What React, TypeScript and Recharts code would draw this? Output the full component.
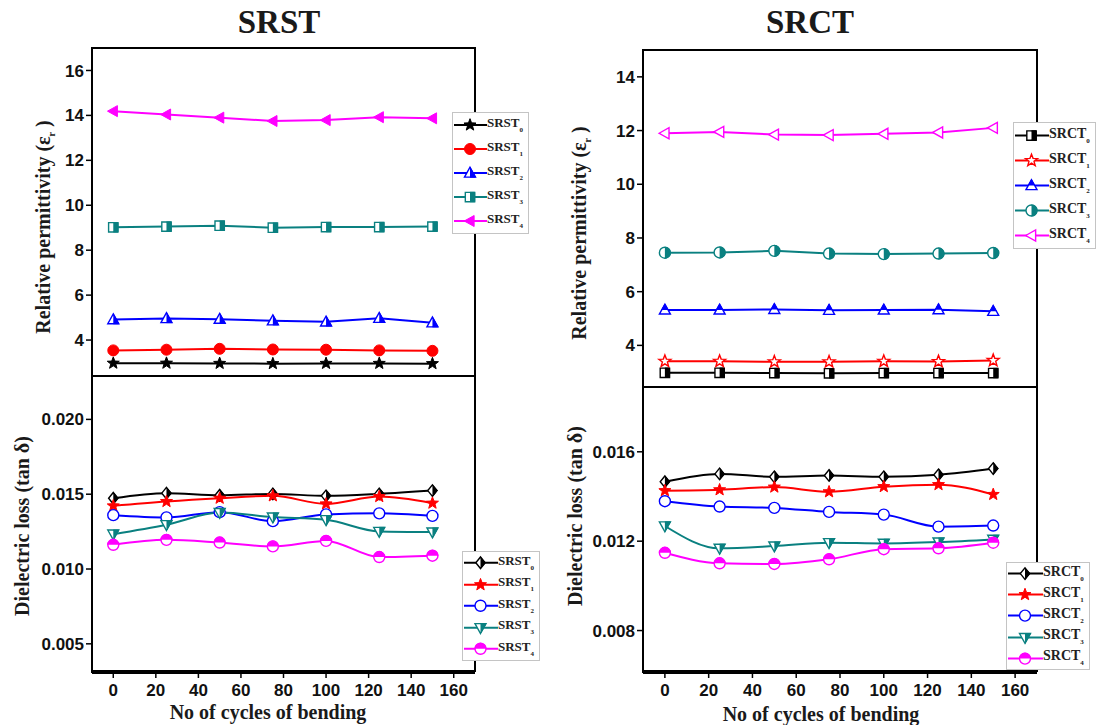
import React from "react";
import { LineChart, Line, XAxis, YAxis } from "recharts";

// Bending cycles (x) and the axis ticks shared by all four panels
const CYCLES = [0, 25, 50, 75, 100, 125, 150];
const X_TICKS = [0, 20, 40, 60, 80, 100, 120, 140, 160];

const EPS_TICKS_SRST = [4, 6, 8, 10, 12, 14, 16];
const EPS_TICKS_SRCT = [4, 6, 8, 10, 12, 14];
const LOSS_TICKS_SRST = [0.005, 0.01, 0.015, 0.02];
const LOSS_TICKS_SRCT = [0.008, 0.012, 0.016];

// Relative permittivity, SRST films
const SRST_EPS_0 = [2.97, 2.97, 2.96, 2.95, 2.96, 2.96, 2.95];
const SRST_EPS_1 = [3.54, 3.57, 3.61, 3.58, 3.57, 3.54, 3.52];
const SRST_EPS_2 = [4.91, 4.96, 4.93, 4.86, 4.81, 4.97, 4.77];
const SRST_EPS_3 = [9.02, 9.05, 9.09, 9.0, 9.03, 9.03, 9.05];
const SRST_EPS_4 = [14.19, 14.04, 13.9, 13.75, 13.79, 13.92, 13.87];

// Relative permittivity, SRCT films
const SRCT_EPS_0 = [2.98, 2.98, 2.97, 2.96, 2.97, 2.97, 2.97];
const SRCT_EPS_1 = [3.41, 3.41, 3.39, 3.39, 3.41, 3.4, 3.44];
const SRCT_EPS_2 = [5.32, 5.32, 5.34, 5.31, 5.32, 5.33, 5.27];
const SRCT_EPS_3 = [7.45, 7.46, 7.52, 7.42, 7.4, 7.42, 7.44];
const SRCT_EPS_4 = [11.9, 11.95, 11.85, 11.83, 11.88, 11.93, 12.1];

// Dielectric loss (tan δ), SRST films
const SRST_LOSS_0 = [0.01473, 0.01507, 0.01493, 0.01502, 0.01489, 0.01502, 0.01524];
const SRST_LOSS_1 = [0.01422, 0.01451, 0.01473, 0.01489, 0.01435, 0.01484, 0.0144];
const SRST_LOSS_2 = [0.0136, 0.01345, 0.0138, 0.0132, 0.01365, 0.01372, 0.01355];
const SRST_LOSS_3 = [0.01233, 0.01296, 0.01377, 0.01347, 0.01329, 0.01251, 0.01247];
const SRST_LOSS_4 = [0.01162, 0.01195, 0.01177, 0.01151, 0.01188, 0.0108, 0.01089];

// Dielectric loss (tan δ), SRCT films
const SRCT_LOSS_0 = [0.01466, 0.01501, 0.01488, 0.01494, 0.01488, 0.01497, 0.01525];
const SRCT_LOSS_1 = [0.01426, 0.0143, 0.01442, 0.01421, 0.01444, 0.01453, 0.01409];
const SRCT_LOSS_2 = [0.01379, 0.01355, 0.01349, 0.01331, 0.01319, 0.01265, 0.0127];
const SRCT_LOSS_3 = [0.01268, 0.01168, 0.01178, 0.01193, 0.0119, 0.01196, 0.01208];
const SRCT_LOSS_4 = [0.01148, 0.01101, 0.01098, 0.01119, 0.01164, 0.01168, 0.01193];

const BLACK = "#000000";
const RED = "#ff0000";
const BLUE = "#0000ff";
const TEAL = "#0a8080";
const MAGENTA = "#ff00ff";

const SERIF = "'Liberation Serif', 'Times New Roman', serif";
const SANS = "'Liberation Sans', Arial, sans-serif";

type Shape = "star" | "circle" | "square" | "diamond" | "triUp" | "triDown" | "triLeft";
type Fill = "solid" | "open" | "right" | "top";

interface SeriesDef {
  key: string;
  color: string;
  shape: Shape;
  fill: Fill;
}

const SERIES_SRST_EPS: SeriesDef[] = [
  { key: "s0", color: BLACK, shape: "star", fill: "solid" },
  { key: "s1", color: RED, shape: "circle", fill: "solid" },
  { key: "s2", color: BLUE, shape: "triUp", fill: "right" },
  { key: "s3", color: TEAL, shape: "square", fill: "right" },
  { key: "s4", color: MAGENTA, shape: "triLeft", fill: "solid" },
];

const SERIES_SRCT_EPS: SeriesDef[] = [
  { key: "s0", color: BLACK, shape: "square", fill: "right" },
  { key: "s1", color: RED, shape: "star", fill: "open" },
  { key: "s2", color: BLUE, shape: "triUp", fill: "top" },
  { key: "s3", color: TEAL, shape: "circle", fill: "right" },
  { key: "s4", color: MAGENTA, shape: "triLeft", fill: "open" },
];

const SERIES_LOSS: SeriesDef[] = [
  { key: "s0", color: BLACK, shape: "diamond", fill: "right" },
  { key: "s1", color: RED, shape: "star", fill: "solid" },
  { key: "s2", color: BLUE, shape: "circle", fill: "open" },
  { key: "s3", color: TEAL, shape: "triDown", fill: "right" },
  { key: "s4", color: MAGENTA, shape: "circle", fill: "top" },
];

function toRows(series: number[][]) {
  return CYCLES.map((cycle, i) => {
    const row: Record<string, number> = { cycle };
    series.forEach((s, k) => {
      row[`s${k}`] = s[i];
    });
    return row;
  });
}

const ROWS_SRST_EPS = toRows([SRST_EPS_0, SRST_EPS_1, SRST_EPS_2, SRST_EPS_3, SRST_EPS_4]);
const ROWS_SRCT_EPS = toRows([SRCT_EPS_0, SRCT_EPS_1, SRCT_EPS_2, SRCT_EPS_3, SRCT_EPS_4]);
const ROWS_SRST_LOSS = toRows([SRST_LOSS_0, SRST_LOSS_1, SRST_LOSS_2, SRST_LOSS_3, SRST_LOSS_4]);
const ROWS_SRCT_LOSS = toRows([SRCT_LOSS_0, SRCT_LOSS_1, SRCT_LOSS_2, SRCT_LOSS_3, SRCT_LOSS_4]);

function poly(pts: [number, number][]) {
  return "M" + pts.map((p) => `${p[0].toFixed(2)},${p[1].toFixed(2)}`).join("L") + "Z";
}

function shapePath(shape: Shape, cx: number, cy: number, r: number): string {
  switch (shape) {
    case "circle":
      return `M${cx - r},${cy}a${r},${r} 0 1,0 ${2 * r},0a${r},${r} 0 1,0 ${-2 * r},0Z`;
    case "square": {
      const s = r * 0.85;
      return poly([[cx - s, cy - s], [cx + s, cy - s], [cx + s, cy + s], [cx - s, cy + s]]);
    }
    case "diamond":
      return poly([[cx, cy - r * 1.05], [cx + r * 0.85, cy], [cx, cy + r * 1.05], [cx - r * 0.85, cy]]);
    case "triUp":
      return poly([[cx, cy - r * 1.05], [cx + r, cy + r * 0.75], [cx - r, cy + r * 0.75]]);
    case "triDown":
      return poly([[cx, cy + r * 1.05], [cx + r, cy - r * 0.75], [cx - r, cy - r * 0.75]]);
    case "triLeft":
      return poly([[cx - r * 1.05, cy], [cx + r * 0.75, cy - r], [cx + r * 0.75, cy + r]]);
    case "star": {
      const pts: [number, number][] = [];
      for (let i = 0; i < 10; i++) {
        const rad = i % 2 === 0 ? r * 1.15 : r * 0.48;
        const a = -Math.PI / 2 + (i * Math.PI) / 5;
        pts.push([cx + rad * Math.cos(a), cy + rad * Math.sin(a)]);
      }
      return poly(pts);
    }
  }
}

function Marker({ id, cx, cy, s, r = 5.5 }: { id: string; cx: number; cy: number; s: SeriesDef; r?: number }) {
  if (cx == null || cy == null || Number.isNaN(cx) || Number.isNaN(cy)) return <g />;
  const d = shapePath(s.shape, cx, cy, r);
  if (s.fill === "solid") return <path d={d} fill={s.color} stroke={s.color} strokeWidth={1} />;
  if (s.fill === "open") return <path d={d} fill="#ffffff" stroke={s.color} strokeWidth={1.4} />;
  const R = r + 3;
  const clip =
    s.fill === "right"
      ? { x: cx, y: cy - R, width: R, height: 2 * R }
      : { x: cx - R, y: cy - R, width: 2 * R, height: R };
  return (
    <g>
      <defs>
        <clipPath id={id}>
          <rect {...clip} />
        </clipPath>
      </defs>
      <path d={d} fill="#ffffff" stroke={s.color} strokeWidth={1.4} />
      <path d={d} fill={s.color} stroke={s.color} strokeWidth={1} clipPath={`url(#${id})`} />
    </g>
  );
}

interface Box {
  x0: number;
  x1: number;
  y0: number;
  y1: number;
}

const tickStyle = { fill: "#111", fontFamily: SANS, fontWeight: 700, fontSize: 17 };

// Plot frame: top panels get a full box, bottom panels share the top edge
function Frame({ box, top }: { box: Box; top: boolean }) {
  return (
    <div
      style={{
        position: "absolute",
        left: box.x0 - 1,
        top: box.y0 - 1,
        width: box.x1 - box.x0 - 2,
        height: box.y1 - box.y0 - 2,
        borderStyle: "solid",
        borderColor: "#000",
        borderWidth: top ? 2 : "0 2px 2px 2px",
        pointerEvents: "none",
      }}
    />
  );
}

function Panel({
  id,
  box,
  rows,
  series,
  yDomain,
  yTicks,
  yFmt,
  curve,
  bottom,
}: {
  id: string;
  box: Box;
  rows: Record<string, number>[];
  series: SeriesDef[];
  yDomain: [number, number];
  yTicks: number[];
  yFmt: (v: number) => string;
  curve: "linear" | "monotone";
  bottom: boolean;
}) {
  const padL = 70;
  const padT = 10;
  const padR = 10;
  const padB = 10;
  const xh = bottom ? 36 : 0;
  const w = box.x1 - box.x0 + padL + padR;
  const h = box.y1 - box.y0 + padT + xh + padB;
  const axisLine = { stroke: "#000", strokeWidth: 2 };
  return (
    <>
      <div style={{ position: "absolute", left: box.x0 - padL, top: box.y0 - padT }}>
        <LineChart width={w} height={h} data={rows} margin={{ top: padT, right: padR, bottom: padB, left: 0 }}>
          <XAxis
            xAxisId="b"
            dataKey="cycle"
            type="number"
            domain={[-10, 170]}
            ticks={bottom ? X_TICKS : []}
            allowDataOverflow
            height={xh}
            hide={!bottom}
            axisLine={axisLine}
            tick={tickStyle}
            tickLine={{ stroke: "#000", strokeWidth: 1.5 }}
            tickSize={5}
            tickMargin={6}
          />
          <YAxis
            yAxisId="l"
            type="number"
            domain={yDomain}
            ticks={yTicks}
            allowDataOverflow
            width={padL}
            axisLine={axisLine}
            tick={tickStyle}
            tickLine={{ stroke: "#000", strokeWidth: 1.5 }}
            tickSize={6}
            tickMargin={2}
            tickFormatter={yFmt}
          />
          {series.map((s) => (
            <Line
              key={s.key}
              xAxisId="b"
              yAxisId="l"
              dataKey={s.key}
              type={curve}
              stroke={s.color}
              strokeWidth={2}
              isAnimationActive={false}
              activeDot={false}
              dot={(p: any) => (
                <Marker key={`${id}-${s.key}-${p.index}`} id={`${id}-${s.key}-${p.index}`} cx={p.cx} cy={p.cy} s={s} />
              )}
            />
          ))}
        </LineChart>
      </div>
      <Frame box={box} top={!bottom} />
    </>
  );
}

function LegendBox({
  id,
  prefix,
  series,
  left,
  top,
  rowH,
  lineW,
  fontSize,
}: {
  id: string;
  prefix: string;
  series: SeriesDef[];
  left: number;
  top: number;
  rowH: number;
  lineW: number;
  fontSize: number;
}) {
  return (
    <div
      style={{
        position: "absolute",
        left,
        top,
        background: "#ffffff",
        border: "1px solid #c4c4c4",
        paddingRight: 5,
        zIndex: 2,
      }}
    >
      {series.map((s, i) => (
        <div key={s.key} style={{ display: "flex", alignItems: "center", height: rowH }}>
          <svg width={lineW} height={rowH} style={{ display: "block" }}>
            <line x1={1} x2={lineW} y1={rowH / 2} y2={rowH / 2} stroke={s.color} strokeWidth={2} />
            <Marker id={`${id}-lg-${i}`} cx={lineW / 2} cy={rowH / 2} s={s} />
          </svg>
          <span style={{ fontFamily: SERIF, fontWeight: 700, fontSize, color: "#222", lineHeight: 1 }}>
            {prefix}
            <sub style={{ fontSize: 7, verticalAlign: "-5px" }}>{i}</sub>
          </span>
        </div>
      ))}
    </div>
  );
}

function Label({ x, y, text, rotate, size }: { x: number; y: number; text: React.ReactNode; rotate?: boolean; size: number }) {
  return (
    <div
      style={{
        position: "absolute",
        left: x,
        top: y,
        transform: `translate(-50%, -50%)${rotate ? " rotate(-90deg)" : ""}`,
        whiteSpace: "nowrap",
        fontFamily: SERIF,
        fontWeight: 700,
        fontSize: size,
        color: "#1a1a1a",
        lineHeight: 1,
      }}
    >
      {text}
    </div>
  );
}

const epsLabel = (
  <span>
    Relative permittivity (ε<sub style={{ fontSize: 10 }}>r</sub> )
  </span>
);

const fmtInt = (v: number) => String(v);
const fmtLoss = (v: number) => v.toFixed(3);

export default function App() {
  return (
    <div style={{ position: "absolute", left: 0, top: 0, width: 1097, height: 725, background: "#fff", overflow: "hidden" }}>
      <Label x={279} y={22} text="SRST" size={33} />
      <Label x={810} y={22} text="SRCT" size={33} />

      <Panel
        id="tl"
        box={{ x0: 92, x1: 475, y0: 48, y1: 376 }}
        rows={ROWS_SRST_EPS}
        series={SERIES_SRST_EPS}
        yDomain={[2.4, 17]}
        yTicks={EPS_TICKS_SRST}
        yFmt={fmtInt}
        curve="linear"
        bottom={false}
      />
      <Panel
        id="bl"
        box={{ x0: 92, x1: 475, y0: 376, y1: 673 }}
        rows={ROWS_SRST_LOSS}
        series={SERIES_LOSS}
        yDomain={[0.00305, 0.0229]}
        yTicks={LOSS_TICKS_SRST}
        yFmt={fmtLoss}
        curve="monotone"
        bottom
      />
      <Panel
        id="tr"
        box={{ x0: 643, x1: 1037, y0: 50, y1: 387 }}
        rows={ROWS_SRCT_EPS}
        series={SERIES_SRCT_EPS}
        yDomain={[2.45, 15]}
        yTicks={EPS_TICKS_SRCT}
        yFmt={fmtInt}
        curve="linear"
        bottom={false}
      />
      <Panel
        id="br"
        box={{ x0: 643, x1: 1037, y0: 387, y1: 673 }}
        rows={ROWS_SRCT_LOSS}
        series={SERIES_LOSS}
        yDomain={[0.0061, 0.0189]}
        yTicks={LOSS_TICKS_SRCT}
        yFmt={fmtLoss}
        curve="monotone"
        bottom
      />

      <Label x={45} y={227} text={epsLabel} rotate size={20} />
      <Label x={22} y={526} text="Dielectric loss (tan δ)" rotate size={20} />
      <Label x={581} y={233} text={epsLabel} rotate size={20} />
      <Label x={575} y={516} text="Dielectric loss (tan δ)" rotate size={20} />
      <Label x={268} y={712} text="No of cycles of bending" size={20} />
      <Label x={821} y={714} text="No of cycles of bending" size={20} />

      <LegendBox id="lg-tl" prefix="SRST" series={SERIES_SRST_EPS} left={452} top={112} rowH={24} lineW={34} fontSize={13} />
      <LegendBox id="lg-tr" prefix="SRCT" series={SERIES_SRCT_EPS} left={1013} top={122} rowH={25} lineW={35} fontSize={14} />
      <LegendBox id="lg-bl" prefix="SRST" series={SERIES_LOSS} left={462} top={551} rowH={21.5} lineW={35} fontSize={13} />
      <LegendBox id="lg-br" prefix="SRCT" series={SERIES_LOSS} left={1006} top={562} rowH={21.2} lineW={36} fontSize={14} />
    </div>
  );
}
